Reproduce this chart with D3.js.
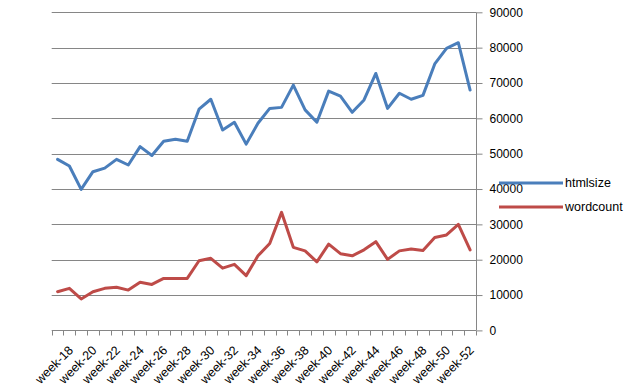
<!DOCTYPE html>
<html>
<head>
<meta charset="utf-8">
<script src="https://cdnjs.cloudflare.com/ajax/libs/d3/7.8.5/d3.min.js"></script>
<style>
  body { margin: 0; background: #fff; }
  text { font-family: "Liberation Sans", Arial, sans-serif; fill: #000; }
</style>
</head>
<body>
<div id="chart"></div>
<script>
const weeks = d3.range(17, 53).map(n => 'week-' + n);
const htmlsize = [48400, 46500, 39900, 44900, 45900, 48400, 46800, 52000, 49500, 53500, 54100, 53500,
    62600, 65400, 56700, 58900, 52700, 58600, 62800, 63100, 69400, 62400, 58900, 67700,
    66300, 61700, 65200, 72700, 62800, 67100, 65400, 66500, 75400, 79800, 81400, 68000];
const wordcount = [10950, 11900, 8900, 10950, 11900, 12200, 11400, 13600, 13000, 14700, 14700, 14700,
    19700, 20400, 17600, 18700, 15500, 21100, 24600, 33400, 23500, 22500, 19400, 24400,
    21700, 21100, 22800, 25100, 20100, 22500, 23000, 22600, 26300, 27000, 30000, 22800];
const yTicks = [0, 10000, 20000, 30000, 40000, 50000, 60000, 70000, 80000, 90000];
const seriesNames = ['htmlsize', 'wordcount'];
const seriesColors = ['#4a7ebb', '#be4b48'];

const width = 638, height = 391;
const plotLeft = 51.7, plotRight = 476, plotTop = 12.3, plotBottom = 330.4;
const gridColor = '#868686';

const svg = d3.select('#chart').append('svg')
    .attr('width', width)
    .attr('height', height);

const x = d3.scaleBand().domain(weeks).range([plotLeft, plotRight]).padding(0);
const y = d3.scaleLinear().domain([0, 90000]).range([plotBottom, plotTop]);

// gridlines
svg.append('g')
    .selectAll('line')
    .data(yTicks.filter(d => d > 0))
    .join('line')
    .attr('x1', plotLeft)
    .attr('x2', plotRight)
    .attr('y1', d => Math.round(y(d)) + 0.5)
    .attr('y2', d => Math.round(y(d)) + 0.5)
    .attr('stroke', gridColor)
    .attr('stroke-width', 1);

// right value axis
const yAxis = svg.append('g')
    .attr('transform', `translate(${Math.round(plotRight) + 0.5},0)`)
    .call(d3.axisRight(y).tickValues(yTicks).tickSize(6).tickPadding(7).tickFormat(d3.format('d')));
yAxis.select('.domain').attr('stroke', gridColor).attr('d', `M0,${plotTop}V${plotBottom}`);
yAxis.selectAll('.tick line').attr('stroke', gridColor);
yAxis.selectAll('.tick text').attr('font-size', 12).attr('fill', '#000')
    .attr('font-family', '"Liberation Sans", Arial, sans-serif');

// category axis
const xg = svg.append('g');
const baseY = Math.round(plotBottom) + 0.5;
xg.append('line')
    .attr('x1', plotLeft).attr('x2', plotRight)
    .attr('y1', baseY).attr('y2', baseY)
    .attr('stroke', gridColor);
xg.selectAll('line.tick')
    .data(weeks.map(w => x(w)).concat([plotRight]))
    .join('line')
    .attr('class', 'tick')
    .attr('x1', d => Math.round(d) + 0.5)
    .attr('x2', d => Math.round(d) + 0.5)
    .attr('y1', baseY)
    .attr('y2', baseY + 5)
    .attr('stroke', gridColor);
xg.selectAll('text')
    .data(weeks.filter((w, i) => i % 2 === 1))
    .join('text')
    .attr('transform', d => `translate(${x(d) + x.bandwidth() / 2 + 4.5},351) rotate(-45)`)
    .attr('text-anchor', 'end')
    .attr('font-size', 12.5)
    .text(d => d);

// lines
const line = d3.line()
    .x((d, i) => x(weeks[i]) + x.bandwidth() / 2)
    .y(d => y(d));

[htmlsize, wordcount].forEach((data, k) => {
    svg.append('path')
        .datum(data)
        .attr('fill', 'none')
        .attr('stroke', seriesColors[k])
        .attr('stroke-width', 3)
        .attr('stroke-linejoin', 'round')
        .attr('stroke-linecap', 'round')
        .attr('d', line);
});

// legend
const legend = svg.append('g');
seriesNames.forEach((name, k) => {
    const ly = 183 + k * 24;
    legend.append('line')
        .attr('x1', 499).attr('x2', 563)
        .attr('y1', ly).attr('y2', ly)
        .attr('stroke', seriesColors[k])
        .attr('stroke-width', 3);
    legend.append('text')
        .attr('x', 565)
        .attr('y', ly)
        .attr('dy', '0.35em')
        .attr('font-size', 12.5)
        .text(name);
});
</script>
</body>
</html>
